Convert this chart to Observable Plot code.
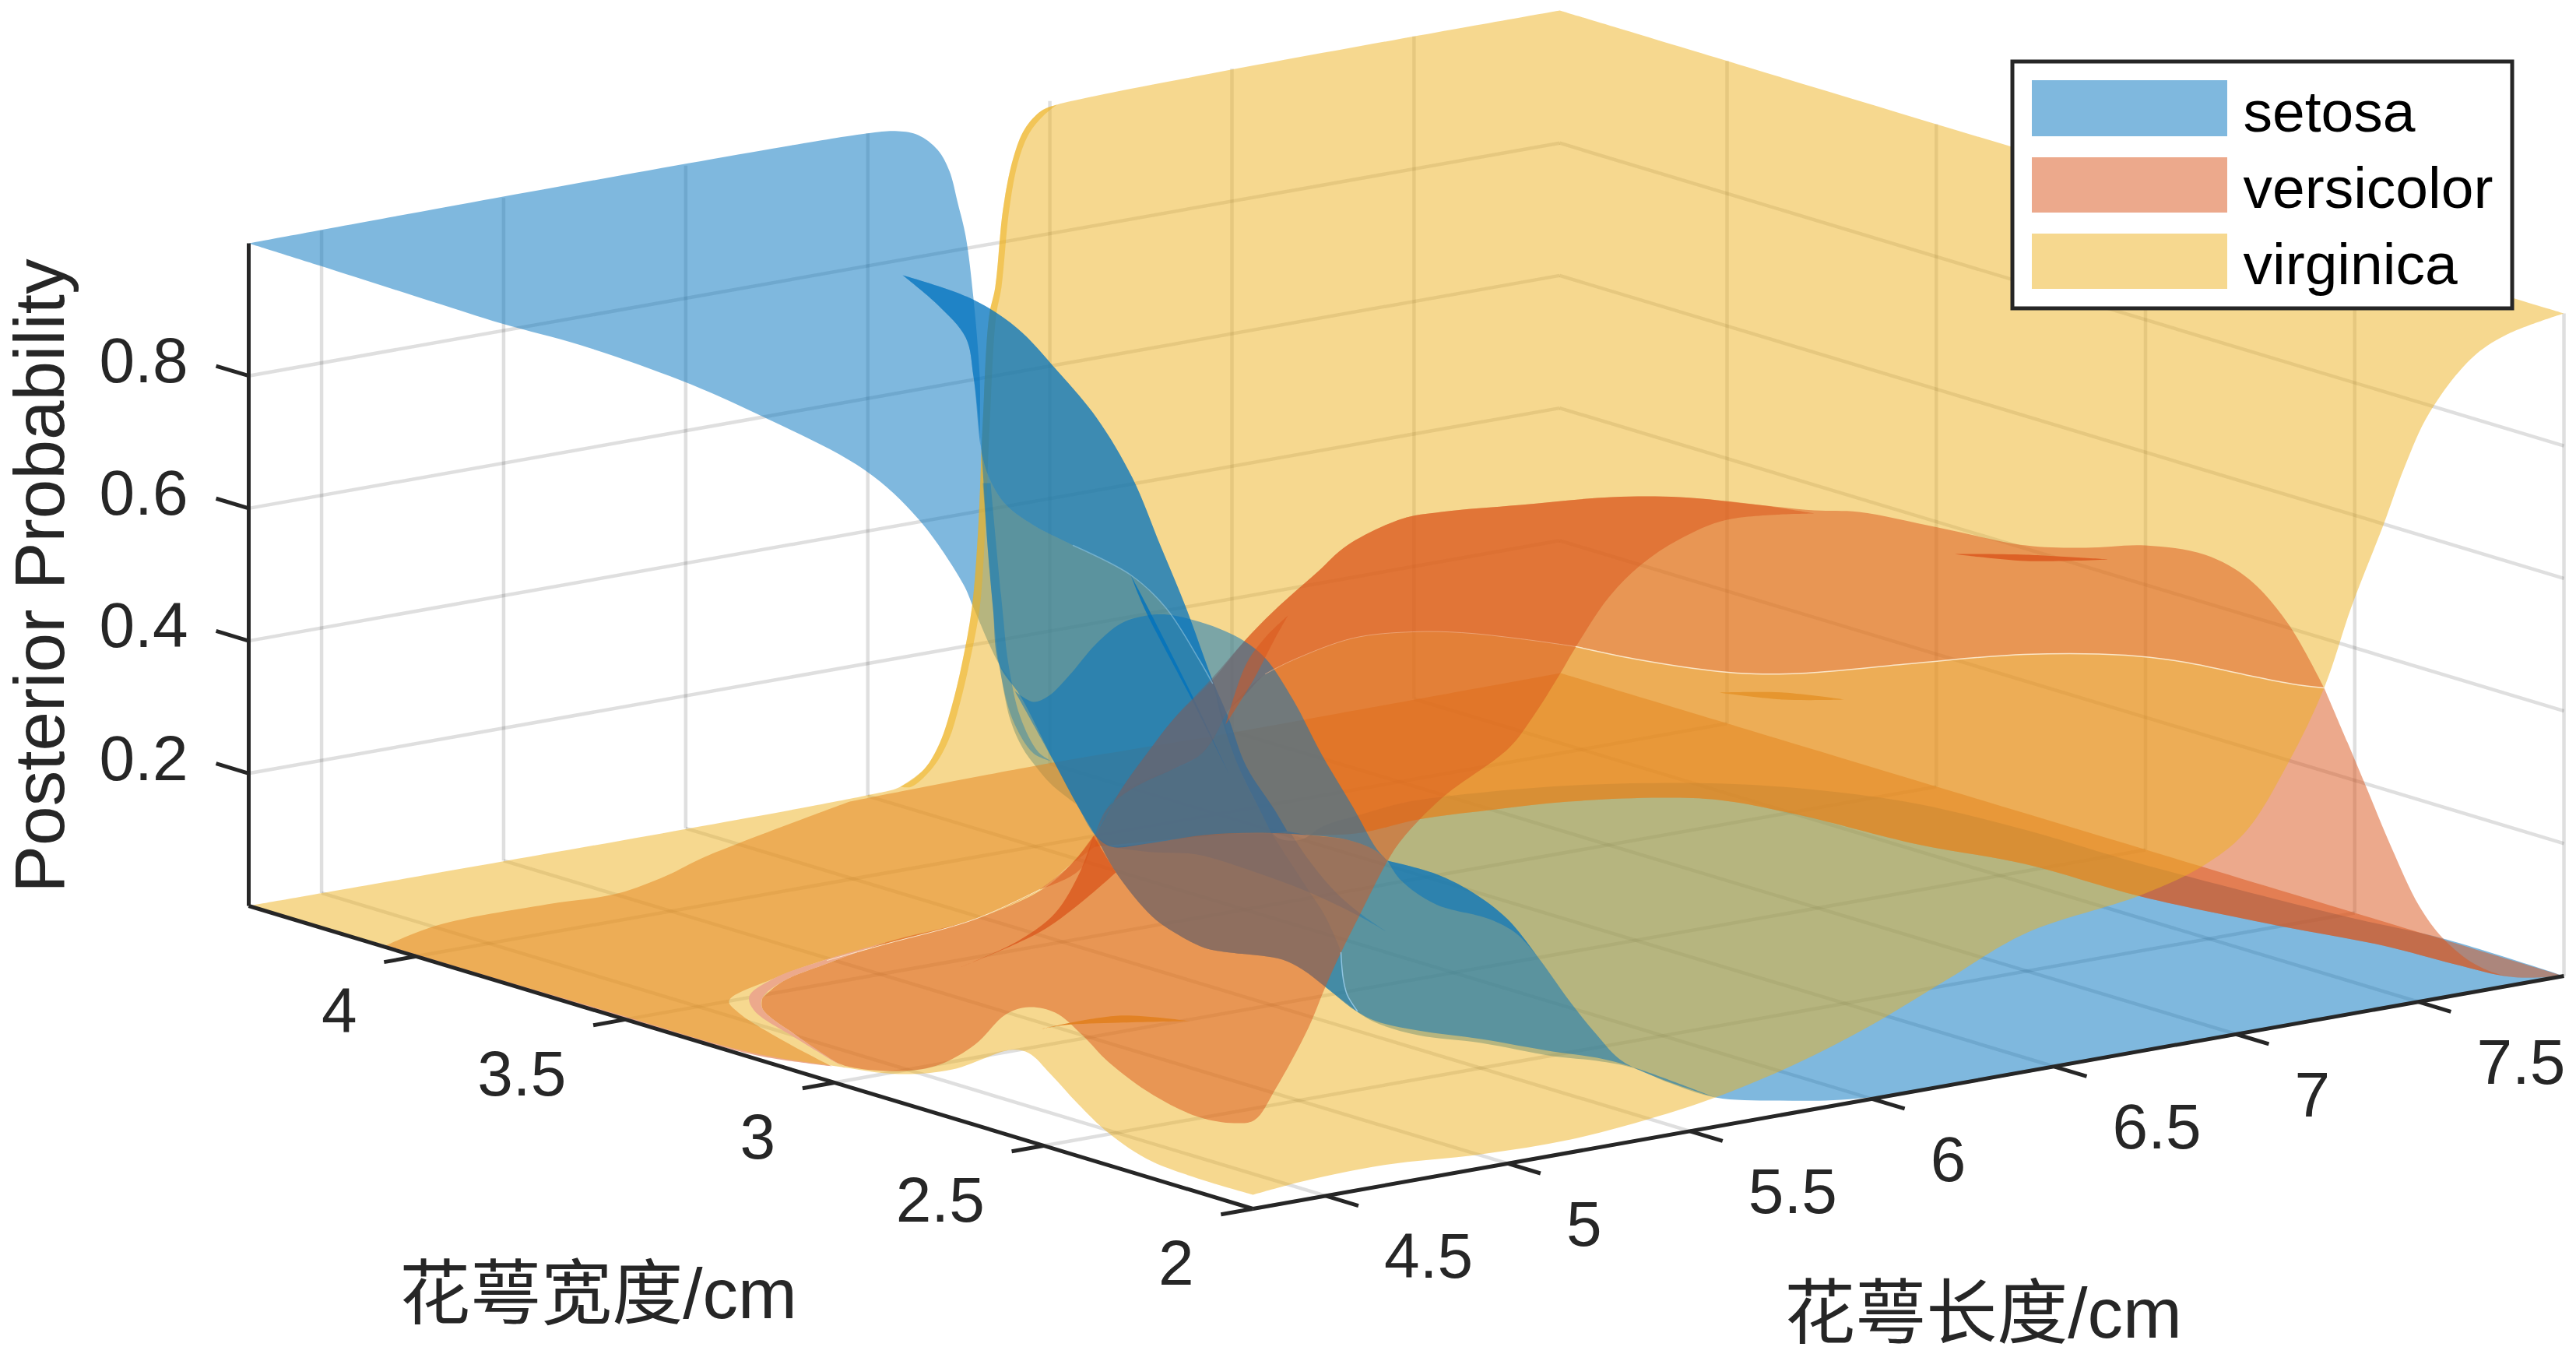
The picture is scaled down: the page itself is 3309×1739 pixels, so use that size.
<!DOCTYPE html>
<html><head><meta charset="utf-8">
<style>html,body{margin:0;padding:0;background:#fff}svg{display:block}</style>
<script src="https://cdn.jsdelivr.net/npm/d3@7"></script>
<script src="https://cdn.jsdelivr.net/npm/@observablehq/plot@0.6"></script>
</head><body><div id="chart"></div>
<script>
// axis values
const lengthTicks=[4.5,5,5.5,6,6.5,7,7.5];
const widthTicks=[2,2.5,3,3.5,4];
const probTicks=[0.2,0.4,0.6,0.8];
const lengthRange=[4.3,7.9], widthRange=[2,4.4], probRange=[0,1];
const species=["setosa","versicolor","virginica"];
const speciesColors=["#0072BD","#D95319","#EDB120"];
const ink="#262626";
const view=(L,W,P)=>[1609+(L-4.3)/3.6*1684-(W-2)/2.4*1290, 1552-(L-4.3)/3.6*299-(W-2)/2.4*389-P*851];

// surface sheets traced on the view plane
const setosaSheet=[[319,312],[319,312],[1112,171],[1153,168],[1179,173],[1204,192],[1219,219],[1230,261],[1240,303],[1250,383],[1258,483],[1260,578],[1270,613],[1291,647],[1327,674],[1378,700],[1452,738],[1497,780],[1540,847],[1557,877],[1590,983],[1618,1040],[1640,1075],[1670,1078],[1700,1060],[1750,1045],[1800,1031],[1851,1023],[2004,1009],[2157,1005],[2259,1008],[2361,1017],[2463,1032],[2600,1065],[2750,1109],[3010,1176],[3138,1205],[3293,1253],[3293,1253],[3025,1300],[2400,1409],[2281,1413],[2203,1409],[2143,1390],[2097,1371],[2051,1362],[1994,1356],[1902,1339],[1821,1329],[1767,1313],[1740,1297],[1702,1267],[1673,1245],[1647,1232],[1620,1227],[1580,1223],[1547,1217],[1513,1200],[1480,1177],[1433,1120],[1407,1073],[1383,1033],[1353,977],[1310,893],[1283,853],[1250,780],[1237,750],[1180,667],[1110,603],[976,533],[874,488],[746,443],[644,415],[555,387],[408,340],[319,312]];
const setosaUnder=[[1283,853],[1283,853],[1297,923],[1313,960],[1327,980],[1350,1007],[1383,1033],[1383,1033],[1353,977],[1310,893],[1283,853]];
const versicolorLow=[[495,1214],[495,1214],[561,1188],[702,1161],[793,1147],[856,1124],[905,1100],[1091,1029],[1091,1029],[1330,983],[1559,945],[1559,945],[1585,903],[1625,865],[1661,847],[1738,819],[1814,811],[1877,812],[1953,820],[2024,830],[2106,847],[2208,862],[2254,865],[2320,864],[2463,851],[2600,840],[2730,841],[2806,850],[2883,866],[2944,878],[2985,883],[2985,883],[3015,953],[3041,1015],[3071,1087],[3107,1163],[3138,1205],[3179,1238],[3224,1254],[3293,1253],[3293,1253],[3224,1254],[3153,1238],[3061,1214],[2929,1189],[2750,1151],[2600,1109],[2463,1084],[2310,1046],[2208,1027],[2132,1024],[2014,1029],[1912,1040],[1821,1052],[1748,1069],[1690,1072],[1610,1069],[1508,1077],[1406,1087],[1406,1087],[1376,1109],[1335,1142],[1252,1180],[1137,1212],[1057,1233],[994,1256],[936,1285],[948,1300],[1011,1339],[1068,1369],[1068,1369],[982,1357],[912,1340],[803,1308],[495,1214]];
const versicolorFloor=[[1559,945],[1559,945],[2004,864],[2004,864],[3293,1253],[3293,1253],[3224,1254],[3153,1238],[3061,1214],[2929,1189],[2750,1151],[2600,1109],[2463,1084],[2310,1046],[2208,1027],[2132,1024],[2014,1029],[1912,1040],[1821,1052],[1748,1069],[1690,1072],[1610,1069],[1508,1077],[1406,1087],[1406,1087],[1427,1029],[1467,1002],[1534,975],[1559,945]];
const virginicaSheet=[[319,1163],[319,1163],[1113,1021],[1156,1010],[1187,987],[1207,953],[1222,907],[1235,853],[1248,780],[1256,680],[1262,540],[1270,406],[1278,368],[1288,268],[1301,203],[1316,165],[1337,142],[1357,134],[2003,13],[2003,13],[3293,402],[3293,402],[3218,430],[3174,460],[3120,530],[3088,600],[3061,674],[3020,779],[2985,883],[2939,979],[2883,1069],[2827,1113],[2750,1149],[2602,1198],[2500,1258],[2400,1318],[2304,1367],[2203,1409],[2120,1436],[2017,1463],[1902,1482],[1776,1496],[1672,1517],[1609,1534],[1609,1534],[1481,1492],[1424,1455],[1384,1417],[1349,1379],[1321,1352],[1298,1348],[1223,1373],[1154,1379],[1074,1369],[982,1355],[912,1338],[803,1305],[650,1260],[490,1212],[319,1163]];
const virginicaCliff=[[1357,134],[1337,142],[1316,165],[1301,203],[1288,268],[1278,368],[1270,406],[1262,540],[1256,680],[1248,780],[1235,853],[1222,907],[1207,953],[1187,987],[1156,1010],[1156,1010],[1170,1010],[1198,985],[1218,950],[1232,905],[1245,850],[1258,780],[1265,680],[1271,540],[1279,406],[1286,368],[1296,268],[1308,205],[1322,170],[1340,148],[1357,134]];
const setosaEdge=[[1262,620],[1262,620],[1275,780],[1283,853],[1300,923],[1327,967],[1350,977],[1350,977],[1333,965],[1310,920],[1295,853],[1287,780],[1272,620]];
const setosaOver=[[1159,353],[1159,353],[1247,383],[1306,421],[1357,475],[1408,536],[1454,613],[1490,700],[1523,780],[1557,873],[1577,920],[1600,983],[1637,1040],[1653,1067],[1653,1067],[1680,1072],[1730,1078],[1763,1090],[1782,1105],[1782,1105],[1844,1122],[1890,1145],[1936,1180],[1976,1230],[2017,1287],[2051,1329],[2086,1364],[2203,1409],[2203,1409],[2097,1370],[2051,1358],[1994,1350],[1902,1334],[1821,1323],[1767,1311],[1740,1297],[1702,1267],[1673,1245],[1647,1232],[1620,1227],[1580,1223],[1547,1217],[1513,1200],[1480,1177],[1433,1120],[1407,1073],[1383,1033],[1353,977],[1310,893],[1283,853],[1275,780],[1268,700],[1260,578],[1250,483],[1240,433],[1204,391],[1159,353]];
const setosaFold=[[1159,353],[1159,353],[1247,383],[1306,421],[1357,475],[1408,536],[1454,613],[1490,700],[1523,780],[1557,873],[1577,920],[1600,983],[1637,1040],[1653,1067],[1653,1067],[1633,1070],[1633,1070],[1618,1040],[1590,983],[1568,920],[1557,877],[1540,847],[1497,780],[1452,738],[1378,700],[1327,674],[1291,647],[1270,613],[1260,578],[1250,483],[1240,433],[1204,391],[1159,353]];
const setosaLeft=[[1407,1073],[1433,1120],[1480,1177],[1513,1200],[1547,1217],[1580,1223],[1620,1227],[1647,1232],[1673,1245],[1702,1267],[1743,1298],[1743,1298],[1730,1277],[1725,1257],[1722,1223],[1713,1200],[1700,1173],[1683,1147],[1657,1107],[1633,1070],[1633,1070],[1547,1072],[1480,1082],[1427,1087]];
const setosaBand=[[1430,1088],[1430,1088],[1480,1082],[1547,1072],[1613,1069],[1658,1070],[1658,1070],[1680,1103],[1713,1143],[1747,1173],[1782,1197],[1782,1197],[1747,1177],[1680,1145],[1613,1120],[1537,1097],[1480,1094],[1430,1088]];
const setosaSliver=[[1782,1105],[1782,1105],[1844,1122],[1890,1145],[1936,1180],[1976,1230],[1976,1230],[1948,1199],[1913,1180],[1844,1161],[1799,1130],[1782,1105]];
const setosaNeedle=[[1452,738],[1452,738],[1473,778],[1530,891],[1578,993],[1578,993],[1530,897],[1470,782],[1452,738]];
const versicolorFront=[[979,1281],[1005,1260],[1062,1237],[1137,1210],[1252,1180],[1338,1142],[1376,1109],[1407,1070],[1440,1013],[1473,967],[1507,923],[1557,873],[1598,823],[1636,784],[1692,734],[1730,700],[1800,666],[1851,657],[1953,648],[2070,638],[2157,638],[2259,648],[2330,659],[2330,659],[2218,667],[2157,692],[2106,726],[2065,768],[2024,830],[2004,864],[1968,921],[1938,960],[1851,1025],[1800,1078],[1782,1105],[1747,1173],[1722,1223],[1702,1267],[1680,1320],[1638,1398],[1611,1438],[1585,1442],[1539,1434],[1481,1406],[1424,1364],[1390,1329],[1355,1300],[1321,1293],[1292,1302],[1252,1341],[1206,1367],[1160,1375],[1097,1371],[1074,1364],[1022,1329],[979,1295],[979,1281]];
const versicolorHigh=[[2985,883],[2985,883],[2939,801],[2888,743],[2832,712],[2755,700],[2679,703],[2602,700],[2489,677],[2387,657],[2330,655],[2259,648],[2157,638],[2070,638],[1953,648],[1851,657],[1800,666],[1730,700],[1692,734],[1636,784],[1598,823],[1557,870],[1507,923],[1473,967],[1440,1013],[1407,1070],[1407,1070],[1420,1040],[1453,1013],[1507,987],[1540,970],[1557,950],[1577,913],[1598,893],[1625,865],[1661,847],[1738,819],[1814,811],[1877,812],[1953,820],[2024,830],[2106,847],[2208,862],[2254,865],[2320,864],[2463,851],[2600,840],[2730,841],[2806,850],[2883,866],[2944,878],[2985,883]];
const setosaCap=[[1303,887],[1303,887],[1327,901],[1347,893],[1373,867],[1407,827],[1440,800],[1473,790],[1500,789],[1540,798],[1573,810],[1598,823],[1625,845],[1661,899],[1697,968],[1738,1037],[1768,1090],[1782,1105],[1782,1105],[1763,1090],[1730,1078],[1680,1072],[1613,1069],[1547,1072],[1473,1083],[1427,1087],[1407,1073],[1383,1033],[1353,977],[1303,887]];
const versicolorRim=[[1137,1210],[1057,1233],[994,1256],[962,1279],[968,1297],[1022,1333],[1085,1371],[1074,1364],[1022,1329],[979,1295],[979,1281],[1005,1260],[1062,1237],[1137,1210]];
const versicolorBlade=[[1235,1241],[1235,1241],[1309,1207],[1355,1172],[1387,1119],[1404,1073],[1404,1073],[1433,1120],[1433,1120],[1395,1153],[1338,1195],[1235,1241]];
const versicolorWedge=[[1335,1142],[1335,1142],[1376,1109],[1404,1073],[1404,1073],[1392,1110],[1375,1125],[1335,1142]];
const versicolorSplinter=[[1654,790],[1654,790],[1636,822],[1610,872],[1574,930],[1574,930],[1600,853],[1625,818],[1654,790]];
const nickA=[[1338,1321],[1338,1321],[1436,1304],[1527,1311],[1527,1311],[1436,1313],[1367,1316],[1338,1321]];
const nickB=[[2208,889],[2208,889],[2290,889],[2369,898],[2369,898],[2290,898],[2208,889]];
const nickC=[[2510,711],[2510,711],[2602,712],[2709,718],[2709,718],[2602,720],[2510,711]];
const seam=[[1062,1233],[1137,1212],[1252,1180],[1335,1142]];
const seamFaint=[[1625,865],[1661,847],[1738,819],[1814,811],[1877,812],[1953,820],[2024,830]];
const seamRight=[[2024,830],[2106,847],[2208,862],[2254,865],[2320,864],[2463,851],[2600,840],[2730,841],[2806,850],[2883,866],[2944,878],[2985,883]];
const setosaGlint=[[1378,700],[1452,738],[1497,780],[1540,847],[1557,877]];
const setosaGlintLow=[[1722,1223],[1725,1257],[1730,1277],[1743,1298]];

const sheet=(pts,fill,fillOpacity=.5)=>Plot.line(pts,{x:d=>d[0],y:d=>d[1],fill,fillOpacity,stroke:"none",curve:"catmull-rom"});
const thin=(pts,stroke,strokeWidth,strokeOpacity=1)=>Plot.line(pts,{x:d=>d[0],y:d=>d[1],stroke,strokeWidth,strokeOpacity,curve:"catmull-rom"});
const [BLUE,ORANGE,YELLOW]=speciesColors;
const seg=(a,b)=>{const p=view(...a),q=view(...b);return {x1:p[0],y1:p[1],x2:q[0],y2:q[1]};};
const [L0,L1]=lengthRange,[W0,W1]=widthRange,[P0,P1]=probRange;
const grid=[
 ...lengthTicks.map(l=>seg([l,W1,P0],[l,W1,P1])),
 ...lengthTicks.map(l=>seg([l,W0,P0],[l,W1,P0])),
 ...widthTicks.map(w=>seg([L1,w,P0],[L1,w,P1])),
 ...widthTicks.map(w=>seg([L0,w,P0],[L1,w,P0])),
 ...probTicks.map(p=>seg([L0,W1,p],[L1,W1,p])),
 ...probTicks.map(p=>seg([L1,W1,p],[L1,W0,p]))
];
const axes=[
 seg([L0,W1,P0],[L0,W1,P1]),seg([L0,W1,P0],[L0,W0,P0]),seg([L0,W0,P0],[L1,W0,P0]),
 ...probTicks.map(p=>seg([L0,W1,p],[L0,W1+.078,p])),
 ...widthTicks.map(w=>seg([L0,w,P0],[L0-.088,w,P0])),
 ...lengthTicks.map(l=>seg([l,W0,P0],[l,W0-.078,P0]))
];
const probLabels=probTicks.map(p=>{const v=view(L0,W1,p);return {x:v[0]-78,y:v[1]-18,t:String(p)};});
const widthLabels=widthTicks.map(w=>{const v=view(L0,w,P0);return {x:v[0]-76,y:v[1]+71,t:String(w)};});
const lengthLabels=lengthTicks.map(l=>{const v=view(l,W0,P0);return {x:v[0]+75,y:v[1]+79,t:String(l)};});
const tickFont={fontSize:82,fill:ink,fontFamily:"'Liberation Sans',Arial,sans-serif"};
const titleFont={fontSize:91,fill:ink,fontFamily:"'Liberation Sans','Noto Sans CJK SC',sans-serif"};
const legendRows=species.map((s,i)=>({s,c:speciesColors[i],y1:[103,202,300][i],y2:[175,273,371][i],y:[144,242,340][i]}));

const chart=Plot.plot({
 width:3309,height:1739,margin:0,
 x:{domain:[0,3309],range:[0,3309],axis:null},
 y:{domain:[0,1739],range:[0,1739],axis:null},
 style:{background:"#fff",overflow:"visible"},
 marks:[
  Plot.link(grid,{x1:"x1",y1:"y1",x2:"x2",y2:"y2",stroke:ink,strokeOpacity:.15,strokeWidth:4.5}),
  sheet(setosaSheet,BLUE),
  sheet(setosaUnder,BLUE),
  sheet(versicolorLow,ORANGE),
  sheet(versicolorFloor,ORANGE),
  sheet(virginicaSheet,YELLOW),
  sheet(virginicaCliff,YELLOW),
  sheet(setosaEdge,BLUE,.35),
  sheet(setosaOver,BLUE),
  sheet(setosaFold,BLUE),
  sheet(setosaLeft,BLUE,.25),
  sheet(setosaBand,BLUE,.35),
  sheet(setosaSliver,BLUE),
  sheet(setosaNeedle,BLUE,.8),
  sheet(versicolorFront,ORANGE),
  sheet(versicolorHigh,ORANGE),
  sheet(setosaCap,BLUE),
  sheet(versicolorRim,"#ECA98C",1),
  sheet(versicolorBlade,ORANGE,.75),
  sheet(versicolorWedge,ORANGE,.5),
  sheet(versicolorSplinter,ORANGE,.5),
  sheet(nickA,"#E28224",1),
  sheet(nickB,"#E6962F",1),
  sheet(nickC,"#DD6126",1),
  thin(seam,"#FBE6C8",1),
  thin(seamFaint,"#F0B08A",1,.7),
  thin(seamRight,"#FBE6C8",1.5),
  thin(setosaGlint,"#8FC4E0",1.5,.6),
  thin(setosaGlintLow,"#8FC4E0",1.5),
  Plot.link(axes,{x1:"x1",y1:"y1",x2:"x2",y2:"y2",stroke:ink,strokeWidth:5}),
  Plot.text(probLabels,{x:"x",y:"y",text:"t",textAnchor:"end",...tickFont}),
  Plot.text(widthLabels,{x:"x",y:"y",text:"t",textAnchor:"end",...tickFont}),
  Plot.text(lengthLabels,{x:"x",y:"y",text:"t",textAnchor:"start",...tickFont}),
  Plot.text(["Posterior Probability"],{x:()=>52,y:()=>739,text:d=>d,rotate:-90,...titleFont}),
  Plot.text(["花萼宽度/cm"],{x:()=>768,y:()=>1663,text:d=>d,...titleFont}),
  Plot.text(["花萼长度/cm"],{x:()=>2547,y:()=>1688,text:d=>d,...titleFont}),
  Plot.rect([0],{x1:()=>2585,x2:()=>3227,y1:()=>79,y2:()=>396,fill:"#fff",stroke:ink,strokeWidth:5}),
  Plot.rect(legendRows,{x1:()=>2610,x2:()=>2861,y1:"y1",y2:"y2",fill:"c",fillOpacity:.5}),
  Plot.text(legendRows,{x:()=>2881,y:"y",text:"s",textAnchor:"start",fontSize:75,fill:"#000",fontFamily:"'Liberation Sans',Arial,sans-serif"})
 ]
});
document.getElementById("chart").append(chart);
</script></body></html>
